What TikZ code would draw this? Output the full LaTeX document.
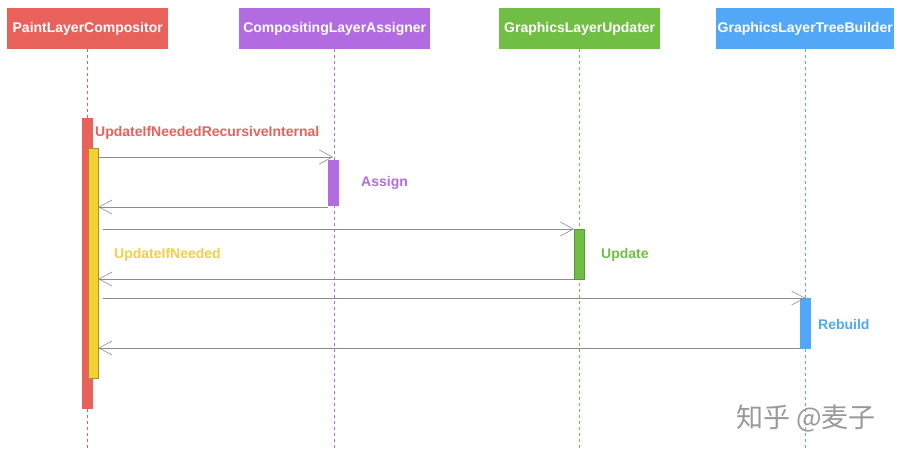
\documentclass[tikz,border=0pt]{standalone}
\usepackage{fontspec}
\setmainfont{Liberation Sans}
\newfontfamily\cjk{Noto Sans CJK SC}
\usetikzlibrary{arrows.meta}
\definecolor{cred}{HTML}{E8615B}
\definecolor{cpur}{HTML}{B36BE2}
\definecolor{cgrn}{HTML}{71BE45}
\definecolor{cblu}{HTML}{52A8F6}
\definecolor{cyel}{HTML}{F5D033}
\definecolor{cylab}{HTML}{F2CF45}
\definecolor{cline}{HTML}{8C8C8C}
\begin{document}
\begin{tikzpicture}[x=1pt,y=-1pt,
  head/.style={fill=#1,draw=none,text=white,font=\bfseries\fontsize{14}{16}\selectfont,minimum height=41pt,inner sep=0pt,anchor=north west},
  life/.style={draw=#1,dashed,dash pattern=on 3pt off 3pt,line width=0.6pt},
  bar/.style={fill=#1,draw=#1!80!black,line width=0.4pt,anchor=north west,inner sep=0pt,minimum width=10pt},
  msg/.style={draw=cline,line width=0.7pt,-{Straight Barb[length=13pt,width=14pt,line width=0.6pt]}},
  lab/.style={text=#1,font=\bfseries\fontsize{14}{16}\selectfont,anchor=west,inner sep=0pt}]
\useasboundingbox (0,0) rectangle (903,455);
\fill[white] (0,0) rectangle (903,455);
% headers
\node[head=cred,minimum width=161pt] (h1) at (7,8) {PaintLayerCompositor};
\node[head=cpur,minimum width=191pt] (h2) at (239,8) {CompositingLayerAssigner};
\node[head=cgrn,minimum width=161pt] (h3) at (499,8) {GraphicsLayerUpdater};
\node[head=cblu,minimum width=178pt] (h4) at (716,8) {GraphicsLayerTreeBuilder};
% lifelines
\coordinate (e1) at (87,448);
\coordinate (e2) at (334,448);
\coordinate (e3) at (579,448);
\coordinate (e4) at (805,448);
\draw[life=cred] (87,49) -- (e1);
\draw[life=cpur] (334,49) -- (e2);
\draw[life=cgrn] (579,49) -- (e3);
\draw[life=cblu] (805,49) -- (e4);
% activation bars
\node[bar=cred,minimum height=290pt,draw=cred] (ar) at (82,118) {};
\node[bar=cyel,minimum height=230pt,draw=cyel!70!black] (ay) at (88,148) {};
\node[bar=cpur,minimum height=45pt,draw=cpur] (ap) at (328,160) {};
\node[bar=cgrn,minimum height=50pt,draw=cgrn!80!black] (ag) at (574,229) {};
\node[bar=cblu,minimum height=50pt,draw=cblu] (ab) at (800,298) {};
% messages
\draw[msg] (ay.east |- 0,157) -- (333,157);
\draw[msg] (ap.west |- 0,207) -- (ay.east |- 0,207);
\draw[msg] (103,229) -- (ag.west |- 0,229);
\draw[msg] (ag.west |- 0,279) -- (ay.east |- 0,279);
\draw[msg] (103,298) -- (ab.north);
\draw[msg] (ab.west |- 0,348) -- (ay.east |- 0,348);
% labels
\node[lab=cred] (l1) at (95,133) {UpdateIfNeededRecursiveInternal};
\node[lab=cpur] (l2) at (361,183) {Assign};
\node[lab=cylab] (l3) at (114,255) {UpdateIfNeeded};
\node[lab=cgrn] (l4) at (601,255) {Update};
\node[lab=cblu] (l5) at (818,324) {Rebuild};
% watermark
\node[anchor=west,inner sep=0pt,text=black!40,font=\cjk\fontsize{27}{29}\selectfont] (wm) at (736,418) {知乎 @麦子};
\end{tikzpicture}
\end{document}
